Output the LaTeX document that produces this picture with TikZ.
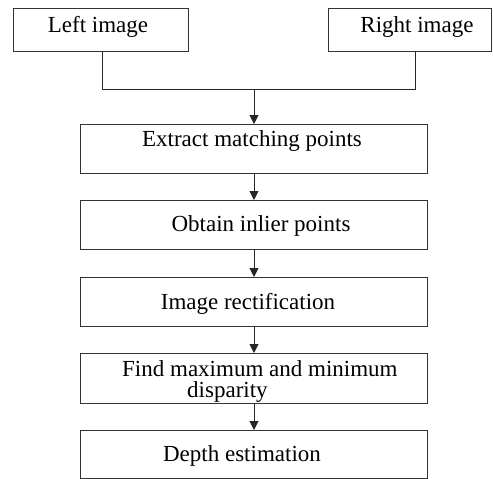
\documentclass[tikz,border=0pt]{standalone}
\usepackage{fontspec}
\setmainfont{Liberation Serif}
\usetikzlibrary{arrows.meta}
\begin{document}
\begin{tikzpicture}[x=1pt,y=-1pt,
  box/.style={draw=black!80,line width=0.9pt},
  lbl/.style={inner sep=0pt,anchor=base,font=\fontsize{23}{22}\selectfont},
  conn/.style={draw=black!85,line width=1pt},
  arr/.style={conn,-{Triangle[length=9pt,width=9pt]}}]
\useasboundingbox (0,0) rectangle (493,479);
% boxes
\draw[box] (13,8) rectangle (188,51);
\draw[box] (328,8) rectangle (491,51);
\coordinate (lb) at (102,51);
\coordinate (rb) at (415,51);
\coordinate (j) at (254,89);
\draw[box] (80,124) rectangle (427,173);
\draw[box] (80,200) rectangle (427,249);
\draw[box] (80,277) rectangle (427,326);
\draw[box] (80,353) rectangle (427,403);
\draw[box] (80,430) rectangle (427,478);
\coordinate (b1t) at (254,124);
\coordinate (b1b) at (254,173);
\coordinate (b2t) at (254,200);
\coordinate (b2b) at (254,249);
\coordinate (b3t) at (254,277);
\coordinate (b3b) at (254,326);
\coordinate (b4t) at (254,353);
\coordinate (b4b) at (254,403);
\coordinate (b5t) at (254,430);
% texts
\node[lbl] (tl) at (98,32) {Left image};
\node[lbl] (tr) at (417,32) {Right image};
\node[lbl] (t1) at (252,146) {Extract matching points};
\node[lbl] (t2) at (261,231) {Obtain inlier points};
\node[lbl] (t3) at (248,309) {Image rectification};
\node[lbl,anchor=base west] (t4a) at (122,376) {Find maximum and minimum};
\node[lbl,anchor=base west] (t4b) at (187,397) {disparity};
\node[lbl] (t5) at (242,461) {Depth estimation};
% connectors
\draw[conn] (lb) -- (lb |- j) -- (rb |- j) -- (rb);
\draw[arr] (j) -- (b1t);
\draw[arr] (b1b) -- (b2t);
\draw[arr] (b2b) -- (b3t);
\draw[arr] (b3b) -- (b4t);
\draw[arr] (b4b) -- (b5t);
\end{tikzpicture}
\end{document}
